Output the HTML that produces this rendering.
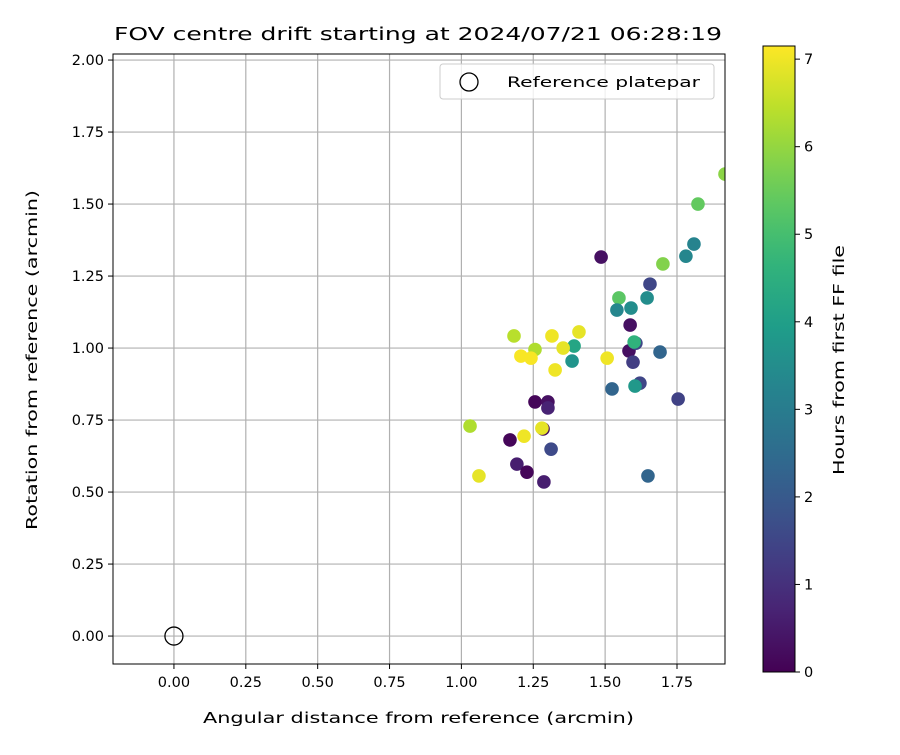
<!DOCTYPE html>
<html><head><meta charset="utf-8"><style>
html,body{margin:0;padding:0;background:#fff;}
svg text{font-family:"DejaVu Sans","Liberation Sans",sans-serif;fill:#000;}
</style></head><body>
<svg id="chart" width="900" height="750" xmlns="http://www.w3.org/2000/svg"></svg>
<script>
const xs=[1.486,1.701,1.781,1.809,1.823,1.917,1.656,1.548,1.541,1.590,1.646,1.587,1.183,1.315,1.409,1.392,1.354,1.256,1.207,1.242,1.385,1.326,1.507,1.583,1.607,1.601,1.597,1.691,1.524,1.621,1.604,1.754,1.256,1.301,1.301,1.030,1.284,1.280,1.169,1.218,1.312,1.193,1.228,1.287,1.061,1.649];
const ys=[1.316,1.292,1.319,1.361,1.500,1.604,1.222,1.174,1.132,1.139,1.174,1.080,1.042,1.042,1.056,1.007,1.000,0.995,0.972,0.965,0.955,0.924,0.965,0.990,1.017,1.021,0.951,0.986,0.858,0.878,0.868,0.823,0.813,0.813,0.792,0.729,0.719,0.722,0.681,0.694,0.649,0.597,0.569,0.535,0.556,0.556];
const hours=[0.3,5.8,3.3,3.2,5.4,5.9,1.5,5.3,3.3,3.5,3.5,0.3,6.4,7.0,6.9,4.2,6.9,6.3,7.1,7.1,3.7,7.0,7.0,0.3,1.5,4.6,1.3,2.3,2.3,1.5,3.8,1.4,0.1,0.3,0.7,6.3,0.2,6.9,0.1,7.0,1.6,0.6,0.1,0.6,6.9,2.3];
const xTicks=[0,0.25,0.5,0.75,1.0,1.25,1.5,1.75];
const yTicks=[0,0.25,0.5,0.75,1.0,1.25,1.5,1.75,2.0];
const cTicks=[0,1,2,3,4,5,6,7];

const NS="http://www.w3.org/2000/svg";
const svg=document.getElementById('chart');
const L=113,R=725,T=54,B=664;
const X0=-0.212,X1=1.917,Y0=-0.097,Y1=2.021;
const sx=v=>L+(v-X0)/(X1-X0)*(R-L);
const sy=v=>B-(v-Y0)/(Y1-Y0)*(B-T);
const CT=46,CB=672,CL=763,CR=795,CMAX=7.15;
const sc=v=>CB-v/CMAX*(CB-CT);
function mk(tag,attrs,parent){const e=document.createElementNS(NS,tag);for(const k in attrs)e.setAttribute(k,attrs[k]);(parent||svg).appendChild(e);return e;}
const vir=[[68,1,84],[72,40,120],[62,74,137],[49,104,142],[38,130,142],[31,158,137],[53,183,121],[109,205,89],[180,222,44],[253,231,37]];
function viridis(t){t=Math.max(0,Math.min(1,t))*(vir.length-1);const i=Math.min(Math.floor(t),vir.length-2),f=t-i;const c=vir[i].map((a,k)=>Math.round(a+(vir[i+1][k]-a)*f));return `rgb(${c[0]},${c[1]},${c[2]})`;}

let t=mk('text',{x:114,y:40,'font-size':'18',textLength:608,lengthAdjust:'spacingAndGlyphs'});

t.textContent='FOV centre drift starting at 2024/07/21 06:28:19';

const grid=mk('g',{});
xTicks.forEach(v=>{const x=sx(v);
 mk('line',{x1:x,x2:x,y1:T,y2:B,stroke:'#b0b0b0','stroke-width':1.2},grid);
 mk('line',{x1:x,x2:x,y1:B,y2:B+5,stroke:'#000'});
 const e=mk('text',{x:x,y:B+23,'text-anchor':'middle','font-size':'14.5'});
 
 e.textContent=v.toFixed(2);});
yTicks.forEach(v=>{const y=sy(v);
 mk('line',{x1:L,x2:R,y1:y,y2:y,stroke:'#b0b0b0','stroke-width':1.2},grid);
 mk('line',{x1:L-5,x2:L,y1:y,y2:y,stroke:'#000'});
 const e=mk('text',{x:L-9,y:y+5,'text-anchor':'end','font-size':'14.5'});
 
 e.textContent=v.toFixed(2);});

const clip=mk('clipPath',{id:'pc'});mk('rect',{x:L,y:T,width:R-L,height:B-T},clip);
const pts=mk('g',{'clip-path':'url(#pc)'});
xs.forEach((_,i)=>{const c=mk('circle',{cx:sx(xs[i]),cy:sy(ys[i]),r:6.8,fill:viridis(hours[i]/CMAX)},pts);
 });
const ref=mk('circle',{cx:sx(0),cy:sy(0),r:9,fill:'none',stroke:'#000','stroke-width':1.3});


const frame=mk('rect',{x:L,y:T,width:R-L,height:B-T,fill:'none',stroke:'#000','stroke-width':1});


const lg=mk('g',{});
mk('rect',{x:440,y:64,width:274,height:35,rx:3,fill:'#fff','fill-opacity':0.8,stroke:'#ccc'},lg);
mk('circle',{cx:469,cy:82,r:9,fill:'none',stroke:'#000','stroke-width':1.3},lg);
const lt=mk('text',{x:507,y:87,'font-size':'14.5',textLength:193,lengthAdjust:'spacingAndGlyphs'},lg);lt.textContent='Reference platepar';

const xl=mk('text',{x:203,y:723,'font-size':'15',textLength:431,lengthAdjust:'spacingAndGlyphs'});

xl.textContent='Angular distance from reference (arcmin)';
const yl=mk('text',{x:-170,y:0,'font-size':'15',textLength:340,lengthAdjust:'spacingAndGlyphs',transform:`translate(37,360) rotate(-90)`});

yl.textContent='Rotation from reference (arcmin)';

const cb=mk('g',{});
const defs=mk('defs',{});const gr=mk('linearGradient',{id:'vg',x1:0,y1:1,x2:0,y2:0},defs);
for(let i=0;i<=20;i++)mk('stop',{offset:i/20,'stop-color':viridis(i/20)},gr);
mk('rect',{x:CL,y:CT,width:CR-CL,height:CB-CT,fill:'url(#vg)',stroke:'#000','stroke-width':1},cb);
cTicks.forEach(v=>{const y=sc(v);
 mk('line',{x1:CR,x2:CR+5,y1:y,y2:y,stroke:'#000'},cb);
 const e=mk('text',{x:CR+9,y:y+5,'font-size':'14.5'},cb);
 
 e.textContent=v;});
const cl=mk('text',{x:-115,y:0,'font-size':'15',textLength:230,lengthAdjust:'spacingAndGlyphs',transform:`translate(844,360) rotate(-90)`});

cl.textContent='Hours from first FF file';
</script>
</body></html>
